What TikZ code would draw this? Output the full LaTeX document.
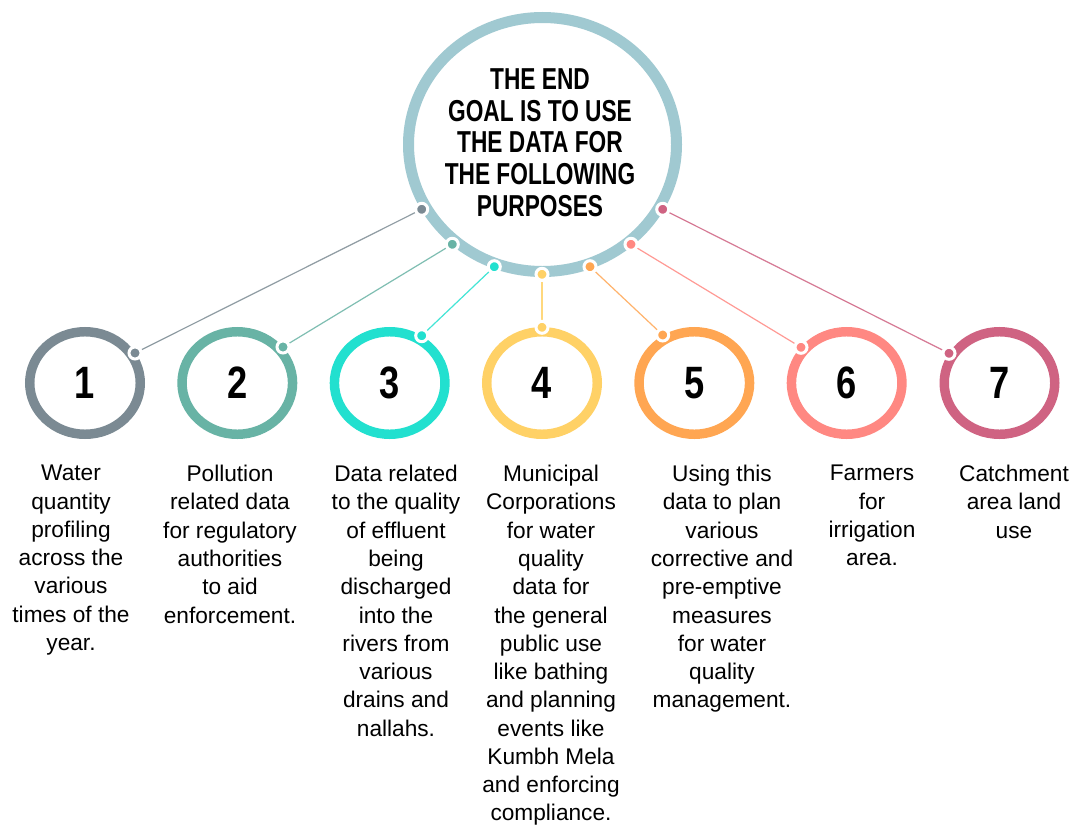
\documentclass[tikz,border=0pt]{standalone}
\usepackage{fontspec}
\setmainfont{Liberation Sans}
\newfontfamily\headfont[FakeStretch=0.75]{Liberation Sans}
\newfontfamily\numfont[FakeStretch=0.8]{Liberation Sans}
\usetikzlibrary{shapes.geometric,backgrounds}
\definecolor{ringblue}{RGB}{160,201,209}
\definecolor{cone}{RGB}{123,138,147}
\definecolor{ctwo}{RGB}{104,179,165}
\definecolor{cthree}{RGB}{34,224,207}
\definecolor{cfour}{RGB}{255,209,102}
\definecolor{cfive}{RGB}{255,166,82}
\definecolor{csix}{RGB}{255,136,130}
\definecolor{cseven}{RGB}{207,99,130}
\begin{document}
\begin{tikzpicture}[x=0.75pt,y=-0.75pt,
  bigring/.style={ellipse, draw=ringblue, line width=8.25pt, minimum width=201pt, minimum height=190.5pt, inner sep=0pt},
  ring/.style={ellipse, draw=#1, line width=7.1pt, minimum width=82.9pt, minimum height=76.9pt, inner sep=0pt, font=\numfont\bfseries\fontsize{34}{34}\selectfont},
  dotnode/.style={circle, fill=#1, draw=white, line width=2.25pt, minimum size=9pt, inner sep=0pt},
  link/.style={draw=#1, line width=0.9pt},
  body/.style={anchor=north, align=center, inner sep=0pt, font=\fontsize{17}{21.2}\selectfont},
  head/.style={anchor=north, align=center, inner sep=0pt, font=\headfont\bfseries\fontsize{22.7}{23.8}\selectfont}
]
\useasboundingbox (0,0) rectangle (1074,828);

% big ring
\node[bigring] (goal) at (542.5,144.5) {};
\node[head] (goaltext) at (540,68.3) {THE END\\GOAL IS TO USE\\THE DATA FOR\\THE FOLLOWING\\PURPOSES};

% small rings
\node[ring=cone]   (r1) at (85,383)    {1};
\node[ring=ctwo]   (r2) at (237.3,383) {2};
\node[ring=cthree] (r3) at (389.7,383) {3};
\node[ring=cfour]  (r4) at (542,383)   {4};
\node[ring=cfive]  (r5) at (694.3,383) {5};
\node[ring=csix]   (r6) at (846.7,383) {6};
\node[ring=cseven] (r7) at (999.5,383) {7};

% dots on big ring
\node[dotnode=cone]   (b1) at (421.7,209.3) {};
\node[dotnode=ctwo]   (b2) at (452.3,244.3) {};
\node[dotnode=cthree] (b3) at (494.3,266.7) {};
\node[dotnode=cfour]  (b4) at (542,274.3)   {};
\node[dotnode=cfive]  (b5) at (590,266.7)   {};
\node[dotnode=csix]   (b6) at (631,244.3)   {};
\node[dotnode=cseven] (b7) at (662.7,209.3) {};

% dots on small rings
\node[dotnode=cone]   (s1) at (135,353)   {};
\node[dotnode=ctwo]   (s2) at (283,347)   {};
\node[dotnode=cthree] (s3) at (421.7,335.7) {};
\node[dotnode=cfour]  (s4) at (542,327.3) {};
\node[dotnode=cfive]  (s5) at (662.7,335) {};
\node[dotnode=csix]   (s6) at (801,347.3) {};
\node[dotnode=cseven] (s7) at (949,353.3) {};

\begin{pgfonlayer}{background}
\fill[white] (0,0) rectangle (1074,828);
\draw[link=cone!85!white]   (b1) -- (s1);
\draw[link=ctwo!85!white]   (b2) -- (s2);
\draw[link=cthree!85!white] (b3) -- (s3);
\draw[link=cfour!85!white]  (b4) -- (s4);
\draw[link=cfive!85!white]  (b5) -- (s5);
\draw[link=csix!85!white]   (b6) -- (s6);
\draw[link=cseven!85!white] (b7) -- (s7);
\end{pgfonlayer}

% texts
\node[body] (t1) at (71,465) {Water\\quantity\\profiling\\across the\\various\\times of the\\year.};
\node[body] (t2) at (230,465) {Pollution\\related data\\for regulatory\\authorities\\to aid\\enforcement.};
\node[body] (t3) at (396,465) {Data related\\to the quality\\of effluent\\being\\discharged\\into the\\rivers from\\various\\drains and\\nallahs.};
\node[body] (t4) at (551,465) {Municipal\\Corporations\\for water\\quality\\data for\\the general\\public use\\like bathing\\and planning\\events like\\Kumbh Mela\\and enforcing\\compliance.};
\node[body] (t5) at (722,465) {Using this\\data to plan\\various\\corrective and\\pre-emptive\\measures\\for water\\quality\\management.};
\node[body] (t6) at (872,465) {Farmers\\for\\irrigation\\area.};
\node[body] (t7) at (1014,465) {Catchment\\area land\\use};
\end{tikzpicture}
\end{document}
